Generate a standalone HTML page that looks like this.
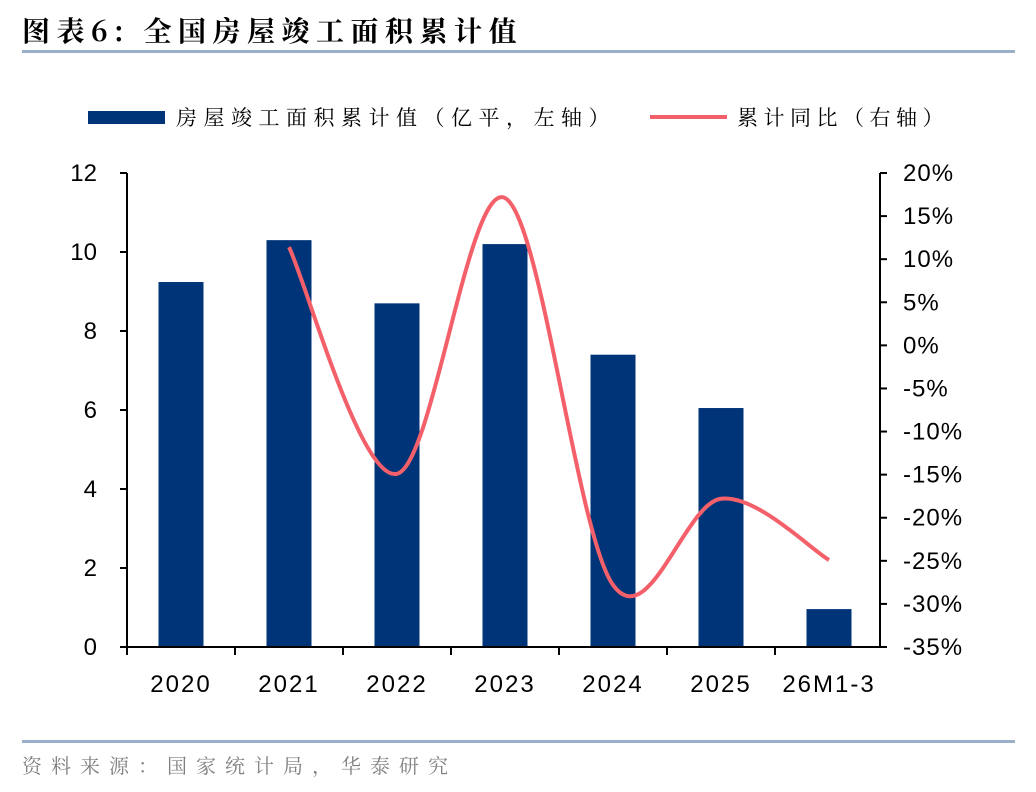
<!DOCTYPE html>
<html><head><meta charset="utf-8"><style>
html,body{margin:0;padding:0;background:#fff;}
svg{display:block;font-family:"Liberation Sans","Noto Sans CJK SC",sans-serif;}
.cjk{font-family:"Noto Serif CJK SC","Noto Sans CJK SC",serif;}
</style></head><body>
<svg id="c" width="1036" height="792" viewBox="0 0 1036 792">
<text x="22" y="41" font-size="28" font-weight="bold" class="cjk" fill="#000" letter-spacing="6.5">图表6:  全国房屋竣工面积累计值</text>
<rect x="22" y="50" width="993" height="3" fill="#9AB0C8"/>
<g>
<rect x="88" y="111" width="77" height="13" fill="#003478"/>
<text x="176" y="125" font-size="21" class="cjk" letter-spacing="6.5">房屋竣工面积累计值（亿平，左轴）</text>
<line x1="650" y1="117" x2="727" y2="117" stroke="#F4606A" stroke-width="4"/>
<text x="737" y="125" font-size="21" class="cjk" letter-spacing="5.5">累计同比（右轴）</text>
</g>
<g id="plot"></g>
<rect x="22" y="740" width="993" height="3" fill="#9AB0C8"/>
<text x="22" y="773" font-size="20" class="cjk" fill="#808080" letter-spacing="9">资料来源：国家统计局，华泰研究</text>
</svg>
<script>
const categories=["2020","2021","2022","2023","2024","2025","26M1-3"];
const barValues=[9.24,10.3,8.7,10.2,7.4,6.05,0.96];
const lineValues=[null,11.4,-14.9,17.1,-27.8,-17.8,-24.9];
const leftTicks=[0,2,4,6,8,10,12];
const rightTicks=[20,15,10,5,0,-5,-10,-15,-20,-25,-30,-35];
const NS="http://www.w3.org/2000/svg";
const g=document.getElementById('plot');
const X0=127,X1=883,Y0=647,Y1=173;
const band=(X1-X0)/categories.length;
const xc=i=>X0+band*(i+0.5);
const yL=v=>Y0-(v-0)/(12-0)*(Y0-Y1);
const yR=v=>Y0-(v+35)/(55)*(Y0-Y1);
function mk(t,a){const e=document.createElementNS(NS,t);for(const k in a)e.setAttribute(k,a[k]);g.appendChild(e);return e;}
barValues.forEach((v,i)=>{
 const r=mk('rect',{x:xc(i)-22.5,y:yL(v),width:45,height:Y0-yL(v),fill:'#003478'});
 
 
});
let a=mk('line',{x1:X0,y1:Y1,x2:X0,y2:Y0+1,stroke:'#000','stroke-width':2});


a=mk('line',{x1:880,y1:Y1,x2:880,y2:Y0+1,stroke:'#000','stroke-width':2});


a=mk('line',{x1:120,y1:Y0,x2:880,y2:Y0,stroke:'#000','stroke-width':2});


leftTicks.forEach(v=>{
 mk('line',{x1:120,y1:yL(v),x2:X0,y2:yL(v),stroke:'#000','stroke-width':2});
 const t=mk('text',{x:97,y:yL(v)+8,'font-size':24,'text-anchor':'end'});t.textContent=v;
 
 
});
rightTicks.forEach(v=>{
 mk('line',{x1:880,y1:yR(v),x2:887,y2:yR(v),stroke:'#000','stroke-width':2});
 const t=mk('text',{x:903,y:yR(v)+8,'font-size':24,'letter-spacing':1});t.textContent=v+'%';
 
 
});
for(let i=0;i<categories.length;i++){
 mk('line',{x1:X0+band*i,y1:Y0,x2:X0+band*i,y2:Y0+8,stroke:'#000','stroke-width':2});
 const t=mk('text',{x:xc(i),y:692,'font-size':24,'text-anchor':'middle','letter-spacing':2});t.textContent=categories[i];
 
 
}
const pts=[];lineValues.forEach((v,i)=>{if(v!==null)pts.push([xc(i),yR(v)]);});
let d='M'+pts[0][0]+','+pts[0][1];
for(let i=0;i<pts.length-1;i++){
 const p0=pts[Math.max(0,i-1)],p1=pts[i],p2=pts[i+1],p3=pts[Math.min(pts.length-1,i+2)];
 const c1=[p1[0]+(p2[0]-p0[0])/6,p1[1]+(p2[1]-p0[1])/6];
 const c2=[p2[0]-(p3[0]-p1[0])/6,p2[1]-(p3[1]-p1[1])/6];
 d+=' C'+c1+' '+c2+' '+p2;
}
const ln=mk('path',{d:d,fill:'none',stroke:'#F4606A','stroke-width':4});


</script>
</body></html>
